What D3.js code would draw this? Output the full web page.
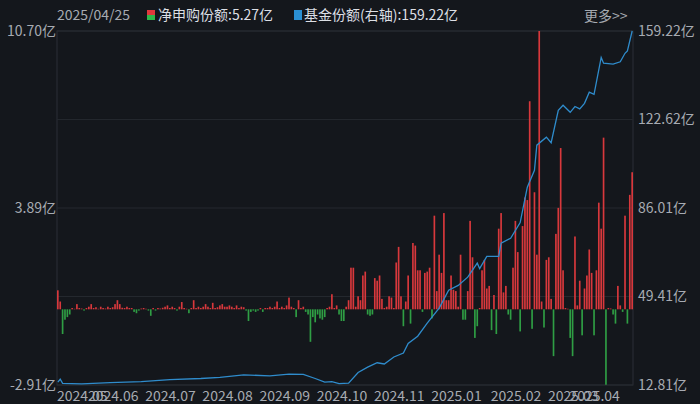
<!DOCTYPE html>
<html>
<head>
<meta charset="utf-8">
<script src="https://cdn.jsdelivr.net/npm/d3@7"></script>
<style>
  body { margin: 0; background: #14171c; }
  text { font-family: "Noto Sans CJK SC", "Noto Sans", sans-serif; }
</style>
</head>
<body>
<div id="chart"></div>
<script>
// 净申购份额 (亿), one per trading day
const netLeft = [
  0.73, 0.3, -0.95, -0.4, -0.3, -0.2, 0.05, 0.02, 0.2, 0.05, 0.03, -0.05, 0.05, 0.1, 0.2, 0.05, 0.08, 0.02, 0.1, 0.05,
  0.03, 0.1, 0.05, 0.08, 0.2, 0.35, 0.2, 0.06, 0.05, 0.1, 0.05, 0.05, -0.1, -0.15, -0.05, 0.03, 0.05, 0.02, -0.05, -0.25,
  0.05, -0.05, 0.05, 0.03, 0.06, 0.1, 0.15, 0.05, 0.1, 0.05, -0.05, 0.1, 0.28, 0.05, 0.02, -0.15, 0.05, 0.35, 0.05, 0.1,
  0.05, 0.1, 0.2, 0.1, 0.05, 0.25, 0.05, 0.08, 0.15, 0.2, 0.1, 0.1, 0.15, 0.1, 0.05, 0.15, 0.05, 0.1, 0.08, -0.05,
  -0.45, -0.1, -0.05, -0.1, -0.05, 0.05, -0.1, 0.05, 0.05, 0.1, 0.05, 0.1, 0.3, 0.05, 0.1, 0.05, 0.15, 0.45, 0.1, 0.05,
  -0.3, 0.35, 0.05, 0.1, -0.1, -0.2, -1.25, -0.3, -0.5, -0.2, -0.35, -0.4, -0.3, 0.05, 0.1
];
const netRight = [
  0.58, 0.05, 0.15, -0.2, -0.45, -0.45, 0.1, 0.35, 1.6, 1.6,
  0.1, 0.5, 0.35, 1.3, 1.45, -0.2, -0.25, -0.2, 1.2, 1.1,
  1.3, 0.4, 0.05, 0.1, 0.5, 0.45, 0.05, 1.8, 2.4, 0.5,
  -0.65, 0.3, 1.3, -0.55, 2.55, 2.45, 1.5, 1.5, -0.1, 1.4,
  1.45, 1.6, -0.35, 3.6, 0.7, 2.1, 1.4, 3.7, 0.35, 0.35,
  1.3, 0.75, 0.7, 0.1, 2.1, -0.4, -0.4, 0.7, 3.4, 2.0,
  -1.1, -0.65, 0.05, 1.5, 1.9, 0.8, 0.9, -0.8, 0.55, -0.95,
  3.1, 3.7, 0.65, 0.9, -0.2, -0.4, 1.6, 3.4, 2.2, -0.85,
  3.2, 4.3, 4.2, 8.0, -0.75, 4.5, 2.1, 10.7, 0.3, -0.7,
  1.9, 2.0, 0.4, -1.8, 2.9, 3.9, 6.2, 1.5, 0.05, 0.02,
  -1.1, -1.8, 2.8, 0.15, 1.1, -1.0, 0.8, 1.3, 2.3, 1.4,
  -1.0, 1.5, 4.1, 3.1, 6.6, -2.9, 0.05, 0.03, -0.2, -0.55,
  0.9, 0.15, -0.1, 3.6, -0.55, 4.4, 5.27
];
const netValues = netLeft.concat(netRight);

// 基金份额 (亿), read at selected days
const shareIdx = [0, 1, 2, 10, 22, 35, 47, 60, 68, 78, 89, 97, 103, 108, 112, 115, 118, 122, 126, 130,
  134, 137, 141, 145, 147, 151, 155, 160, 164, 168, 172, 176, 177, 180, 185, 186, 190, 194, 197, 200,
  201, 205, 207, 210, 212, 215, 217, 219, 221, 223, 225, 228, 229, 233, 236, 238, 239, 241];
const shareVal = [14.0, 15.2, 13.5, 13.3, 13.8, 14.2, 15.0, 15.5, 16.0, 17.0, 16.6, 17.3, 17.2, 15.5, 14.0, 14.2, 13.4, 13.6, 18.0, 20.2,
  22.0, 21.5, 24.4, 26.0, 30.0, 33.0, 38.4, 44.6, 52.0, 54.0, 57.4, 63.2, 61.0, 66.0, 66.0, 71.5, 73.5, 80.0, 94.6, 101.6,
  112.0, 115.3, 113.0, 126.4, 128.5, 125.6, 128.0, 127.0, 129.3, 133.9, 133.0, 148.3, 145.9, 145.5, 146.5, 150.0, 151.0, 159.22];

const leftLabels = ['10.70亿', '3.89亿', '-2.91亿'];
const rightTicks = [159.22, 122.62, 86.01, 49.41, 12.81];
const xTickIdx = [0, 13, 37, 61, 85, 109, 133, 157, 182, 206, 215];
const xTickLabels = ['2024.05', '2024.06', '2024.07', '2024.08', '2024.09', '2024.10', '2024.11', '2025.01', '2025.02', '2025.03', '2025.04'];

const width = 700, height = 404;
const [mt, mr, mb, ml] = [31, 67, 19, 57];
const gw = width - ml - mr, gh = height - mt - mb;

const svg = d3.select('#chart').append('svg')
  .attr('width', width).attr('height', height);

const x = d3.scaleBand().domain(d3.range(netValues.length)).range([0, gw]).paddingInner(0.3);
const y = d3.scaleLinear().domain([-2.91, 10.70]).range([gh, 0]);
const y2 = d3.scaleLinear().domain([12.81, 159.22]).range([gh, 0]);

const g = svg.append('g').attr('transform', `translate(${ml},${mt})`);

// grid + frame
g.append('rect').attr('width', gw).attr('height', gh)
  .attr('fill', 'none').attr('stroke', '#2b2f36');
rightTicks.forEach(t => {
  g.append('line').attr('x1', 0).attr('x2', gw)
    .attr('y1', y2(t)).attr('y2', y2(t))
    .attr('stroke', '#24282e');
});

// bars
g.selectAll('rect.bar').data(netValues).enter().append('rect')
  .attr('class', 'bar')
  .attr('x', (d, i) => x(i))
  .attr('width', x.bandwidth())
  .attr('y', d => d >= 0 ? y(d) : y(0))
  .attr('height', d => Math.max(0.5, Math.abs(y(d) - y(0))))
  .attr('fill', d => d >= 0 ? '#d8383c' : '#2f9e44');

// share line
const line = d3.line()
  .x((d, i) => x(shareIdx[i]) + x.bandwidth() / 2)
  .y(d => y2(d));
g.append('path').attr('d', line(shareVal))
  .attr('fill', 'none').attr('stroke', '#2f8ccc').attr('stroke-width', 1.3);

const labFill = '#a7abb2', labSize = 14;
// left axis labels, on grid rows 0, 2, 4
leftLabels.forEach((t, k) => {
  const yy = y2(rightTicks[k * 2]);
  svg.append('text').attr('x', ml - 1).attr('y', mt + yy + 5)
    .attr('text-anchor', 'end').attr('fill', labFill).attr('font-size', labSize).text(t);
});
// right axis
const yAxisR = d3.axisRight(y2).tickValues(rightTicks).tickSize(0).tickFormat(d => d.toFixed(2) + '亿');
const ra = g.append('g').attr('transform', `translate(${gw},0)`).call(yAxisR);
ra.select('.domain').remove();
ra.selectAll('text').attr('fill', labFill).attr('font-size', labSize).attr('dx', 2)
  .style('font-family', '"Noto Sans CJK SC", sans-serif');

// x labels
xTickIdx.forEach((idx, k) => {
  g.append('text').attr('x', x(idx)).attr('y', gh + 16)
    .attr('fill', labFill).attr('font-size', labSize).text(xTickLabels[k]);
});

// header
svg.append('text').attr('x', 57).attr('y', 20).attr('fill', labFill).attr('font-size', 14).text('2025/04/25');
svg.append('rect').attr('x', 147).attr('y', 10).attr('width', 8).attr('height', 5).attr('fill', '#e0383c');
svg.append('rect').attr('x', 147).attr('y', 15).attr('width', 8).attr('height', 5).attr('fill', '#2fb84a');
svg.append('text').attr('x', 158).attr('y', 20).attr('fill', '#dcdfe4').attr('font-size', 14).text('净申购份额:5.27亿');
svg.append('rect').attr('x', 294).attr('y', 10).attr('width', 8).attr('height', 10).attr('fill', '#2a8fd2');
svg.append('text').attr('x', 304).attr('y', 20).attr('fill', '#dcdfe4').attr('font-size', 14).text('基金份额(右轴):159.22亿');
svg.append('text').attr('x', 584).attr('y', 21).attr('fill', labFill).attr('font-size', 14).text('更多>>');
</script>
</body>
</html>
